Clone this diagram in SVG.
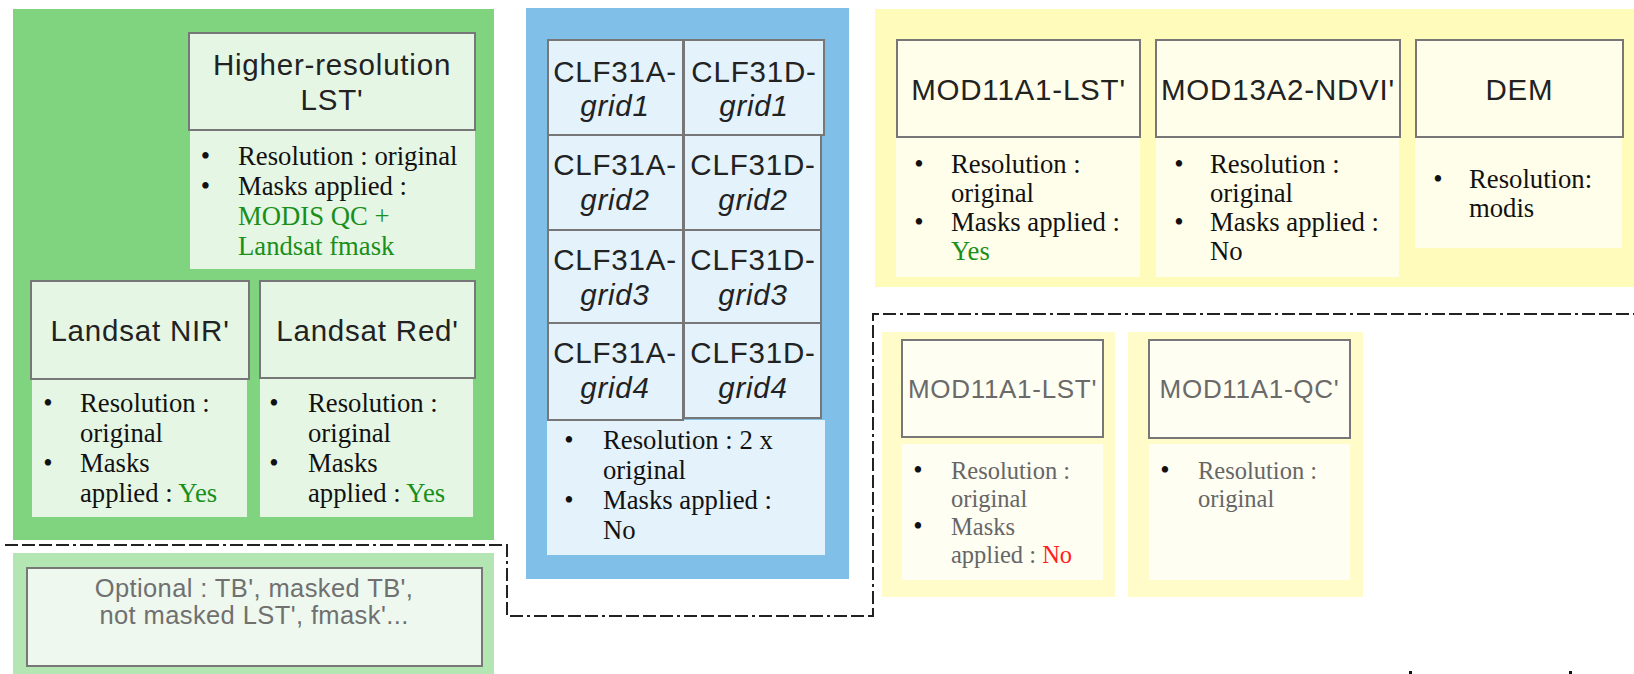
<svg xmlns="http://www.w3.org/2000/svg" width="1634" height="674" viewBox="0 0 1634 674">
<style>
.hdr{fill:#222;font-family:"Liberation Sans",Arial,sans-serif;font-size:29.5px;letter-spacing:0.8px;text-anchor:middle}
.hdrg{fill:#6a6a6a;font-family:"Liberation Sans",Arial,sans-serif;font-size:26px;letter-spacing:0.7px;text-anchor:middle}
.cell{fill:#222;font-family:"Liberation Sans",Arial,sans-serif;font-size:29.5px;letter-spacing:0.8px;text-anchor:middle}
.it{font-style:italic}
.bd{fill:#111;font-family:"Liberation Serif","Times New Roman",serif;font-size:26.7px}
.bdg{fill:#666;font-family:"Liberation Serif","Times New Roman",serif;font-size:24.5px}
.bul{text-anchor:middle;fill:#111}
.grn{fill:#1a8f1a}
.red{fill:#ff1f1f}
.opt{fill:#707070;font-family:"Liberation Sans",Arial,sans-serif;font-size:25.5px;letter-spacing:0.4px;text-anchor:middle}
.box{stroke:#777;stroke-width:2}
.gfill{fill:#e5f6e5}
.bfill{fill:#e3f2fb}
.yfill{fill:#fffeea}
.yfill2{fill:#fffef3}
.dash{fill:none;stroke:#222;stroke-width:2;stroke-dasharray:13 4 13 4 13 4 13 4 3 4}
</style>

<!-- panels -->
<g id="panel-green">
<rect x="13" y="9" width="481" height="531" fill="#80d480"/>
</g>
<g id="panel-green-optional">
<rect x="13" y="553" width="481" height="121" fill="#b3e6b3"/>
</g>
<g id="panel-blue">
<rect x="526" y="8" width="323" height="571" fill="#80c0e8"/>
</g>
<g id="panel-yellow">
<rect x="875" y="9" width="759" height="278" fill="#fffcbb"/>
</g>
<g id="panel-yellow-lst">
<rect x="882" y="332" width="233" height="265" fill="#fffcca"/>
</g>
<g id="panel-yellow-qc">
<rect x="1128" y="332" width="235" height="265" fill="#fffcca"/>
</g>

<!-- Higher-resolution LST' -->
<g id="node-hr-lst">
<rect x="190" y="130" width="285" height="139" class="gfill"/>
<rect x="189" y="33" width="286" height="97" class="gfill box"/>
<text class="hdr" x="332" y="75">Higher-resolution</text>
<text class="hdr" x="332" y="110">LST'</text>
<text class="bd bul" x="205.5" y="165">•</text>
<text class="bd" x="238" y="165">Resolution : original</text>
<text class="bd bul" x="205.5" y="195">•</text>
<text class="bd" x="238" y="195">Masks applied :</text>
<text class="bd grn" x="238" y="225">MODIS QC +</text>
<text class="bd grn" x="238" y="255">Landsat fmask</text>
</g>

<!-- Landsat NIR' -->
<g id="node-nir">
<rect x="32" y="379" width="215" height="138" class="gfill"/>
<rect x="31" y="281" width="218" height="98" class="gfill box"/>
<text class="hdr" x="140" y="341">Landsat NIR'</text>
<text class="bd bul" x="48" y="412">•</text>
<text class="bd" x="80" y="412">Resolution :</text>
<text class="bd" x="80" y="442">original</text>
<text class="bd bul" x="48" y="472">•</text>
<text class="bd" x="80" y="472">Masks</text>
<text class="bd" x="80" y="502">applied : <tspan class="grn">Yes</tspan></text>
</g>

<!-- Landsat Red' -->
<g id="node-red">
<rect x="260" y="378" width="213" height="139" class="gfill"/>
<rect x="260" y="281" width="215" height="97" class="gfill box"/>
<text class="hdr" x="367.5" y="341">Landsat Red'</text>
<text class="bd bul" x="274" y="412">•</text>
<text class="bd" x="308" y="412">Resolution :</text>
<text class="bd" x="308" y="442">original</text>
<text class="bd bul" x="274" y="472">•</text>
<text class="bd" x="308" y="472">Masks</text>
<text class="bd" x="308" y="502">applied : <tspan class="grn">Yes</tspan></text>
</g>

<!-- Optional -->
<g id="node-optional">
<rect x="27" y="568" width="455" height="98" fill="#eef8ee" class="box"/>
<text class="opt" x="254" y="597">Optional : TB', masked TB',</text>
<text class="opt" x="254" y="624">not masked LST', fmask'...</text>
</g>

<!-- CLF grid -->
<g id="node-clf">
<rect x="547" y="420" width="278" height="135" class="bfill"/>
<rect x="548" y="40" width="135" height="95" class="bfill box"/>
<rect x="684" y="40" width="140" height="95" class="bfill box"/>
<rect x="548" y="135" width="135" height="95" class="bfill box"/>
<rect x="684" y="135" width="137" height="95" class="bfill box"/>
<rect x="548" y="230" width="135" height="93" class="bfill box"/>
<rect x="684" y="230" width="137" height="93" class="bfill box"/>
<rect x="548" y="323" width="135" height="97" class="bfill box"/>
<rect x="684" y="323" width="137" height="95" class="bfill box"/>
<text class="cell" x="615" y="82">CLF31A-</text>
<text class="cell it" x="615" y="116">grid1</text>
<text class="cell" x="754" y="82">CLF31D-</text>
<text class="cell it" x="754" y="116">grid1</text>
<text class="cell" x="615" y="175">CLF31A-</text>
<text class="cell it" x="615" y="210">grid2</text>
<text class="cell" x="753" y="175">CLF31D-</text>
<text class="cell it" x="753" y="210">grid2</text>
<text class="cell" x="615" y="270">CLF31A-</text>
<text class="cell it" x="615" y="305">grid3</text>
<text class="cell" x="753" y="270">CLF31D-</text>
<text class="cell it" x="753" y="305">grid3</text>
<text class="cell" x="615" y="363">CLF31A-</text>
<text class="cell it" x="615" y="398">grid4</text>
<text class="cell" x="753" y="363">CLF31D-</text>
<text class="cell it" x="753" y="398">grid4</text>
<text class="bd bul" x="569" y="449">•</text>
<text class="bd" x="603" y="449">Resolution : 2 x</text>
<text class="bd" x="603" y="479">original</text>
<text class="bd bul" x="569" y="509">•</text>
<text class="bd" x="603" y="509">Masks applied :</text>
<text class="bd" x="603" y="539">No</text>
</g>

<!-- MOD11A1-LST' -->
<g id="node-mod11-lst">
<rect x="896" y="137" width="244" height="140" class="yfill"/>
<rect x="897" y="40" width="243" height="97" class="yfill box"/>
<text class="hdr" x="1018.5" y="100">MOD11A1-LST'</text>
<text class="bd bul" x="919" y="173">•</text>
<text class="bd" x="951" y="173">Resolution :</text>
<text class="bd" x="951" y="202">original</text>
<text class="bd bul" x="919" y="231">•</text>
<text class="bd" x="951" y="231">Masks applied :</text>
<text class="bd grn" x="951" y="260">Yes</text>
</g>

<!-- MOD13A2-NDVI' -->
<g id="node-mod13-ndvi">
<rect x="1156" y="137" width="243" height="140" class="yfill"/>
<rect x="1156" y="40" width="244" height="97" class="yfill box"/>
<text class="hdr" x="1278" y="100">MOD13A2-NDVI'</text>
<text class="bd bul" x="1179" y="173">•</text>
<text class="bd" x="1210" y="173">Resolution :</text>
<text class="bd" x="1210" y="202">original</text>
<text class="bd bul" x="1179" y="231">•</text>
<text class="bd" x="1210" y="231">Masks applied :</text>
<text class="bd" x="1210" y="260">No</text>
</g>

<!-- DEM -->
<g id="node-dem">
<rect x="1415" y="138" width="207" height="110" class="yfill"/>
<rect x="1416" y="40" width="207" height="97" class="yfill box"/>
<text class="hdr" x="1519.5" y="100">DEM</text>
<text class="bd bul" x="1438" y="188">•</text>
<text class="bd" x="1469" y="188">Resolution:</text>
<text class="bd" x="1469" y="217">modis</text>
</g>

<!-- lower MOD11A1-LST' -->
<g id="node-mod11-lst-opt">
<rect x="902" y="444" width="201" height="136" class="yfill2"/>
<rect x="902" y="340" width="201" height="97" class="yfill2 box"/>
<text class="hdrg" x="1002.5" y="398">MOD11A1-LST'</text>
<text class="bd bul" x="918" y="479">•</text>
<text class="bdg" x="951" y="479">Resolution :</text>
<text class="bdg" x="951" y="507">original</text>
<text class="bd bul" x="918" y="535">•</text>
<text class="bdg" x="951" y="535">Masks</text>
<text class="bdg" x="951" y="563">applied : <tspan class="red">No</tspan></text>
</g>

<!-- lower MOD11A1-QC' -->
<g id="node-mod11-qc-opt">
<rect x="1149" y="444" width="201" height="136" class="yfill2"/>
<rect x="1149" y="340" width="201" height="98" class="yfill2 box"/>
<text class="hdrg" x="1249.5" y="398">MOD11A1-QC'</text>
<text class="bd bul" x="1165" y="479">•</text>
<text class="bdg" x="1198" y="479">Resolution :</text>
<text class="bdg" x="1198" y="507">original</text>
</g>

<!-- connectors / separators -->
<g id="connectors">
<path class="dash" d="M5 545 H507 V616 H873 V314 H1634"/>
<rect x="1409" y="671" width="3" height="3" fill="#111"/>
<rect x="1569" y="671" width="3" height="3" fill="#111"/>
</g>
</svg>
